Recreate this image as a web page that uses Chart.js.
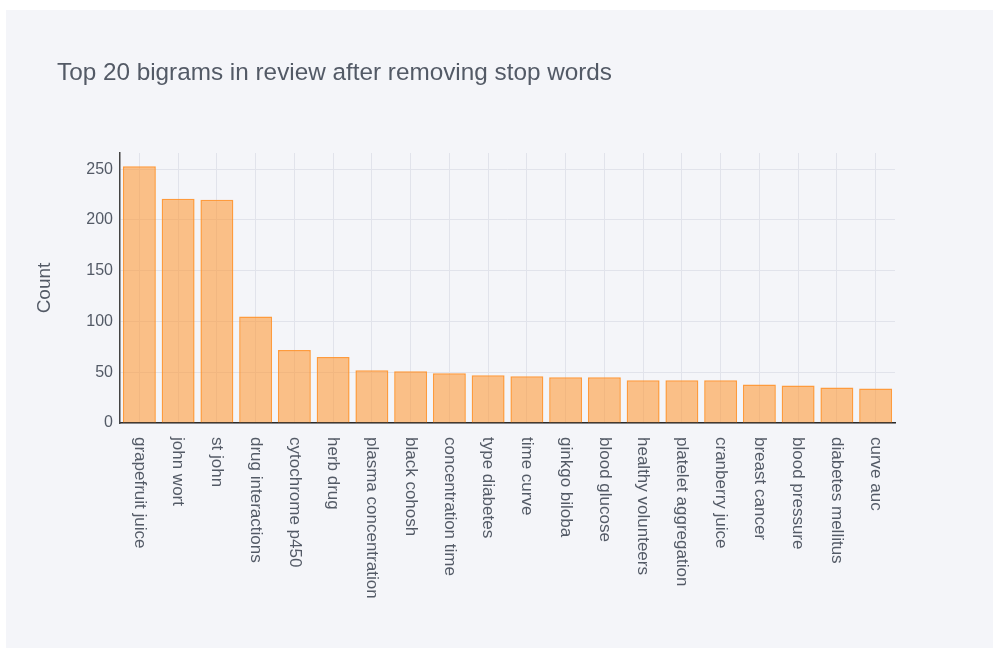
<!DOCTYPE html>
<html>
<head>
<meta charset="utf-8">
<script src="https://cdn.jsdelivr.net/npm/chart.js@4/dist/chart.umd.min.js"></script>
<style>
  html, body { margin: 0; padding: 0; background: #fff; }
  #panel { position: absolute; left: 6px; top: 10px; width: 987px; height: 638px; background: #f4f5f9; }
  #titulo { position: absolute; left: 51px; top: 48px; font: 24.3px "Liberation Sans", Arial, sans-serif; color: #535a66; white-space: nowrap; }
  #grafico { position: absolute; left: 0; top: 0; }
</style>
</head>
<body>
<div id="panel">
  <canvas id="grafico" width="987" height="638"></canvas>
  <div id="titulo">Top 20 bigrams in review after removing stop words</div>
</div>
<script>
const bigramas = ['grapefruit juice', 'john wort', 'st john', 'drug interactions', 'cytochrome p450',
  'herb drug', 'plasma concentration', 'black cohosh', 'concentration time', 'type diabetes',
  'time curve', 'ginkgo biloba', 'blood glucose', 'healthy volunteers', 'platelet aggregation',
  'cranberry juice', 'breast cancer', 'blood pressure', 'diabetes mellitus', 'curve auc'];
const contagens = [253, 221, 220, 105, 72, 65, 52, 51, 49, 47, 46, 45, 45, 42, 42, 42, 38, 37, 35, 34];
const ticksY = [0, 50, 100, 150, 200, 250];

const corTexto = '#535a66';
const fonte = '"Liberation Sans", Arial, sans-serif';

// rótulos do eixo x girados 90° no sentido horário (como no plotly)
const rotulosX = {
  id: 'rotulosX',
  afterDraw(chart) {
    const x = chart.scales.x;
    const ctx = chart.ctx;
    ctx.save();
    ctx.fillStyle = corTexto;
    ctx.font = '17px ' + fonte;
    ctx.textAlign = 'left';
    ctx.textBaseline = 'middle';
    bigramas.forEach((b, i) => {
      ctx.save();
      ctx.translate(x.getPixelForValue(i), x.bottom + 14);
      ctx.rotate(Math.PI / 2);
      ctx.fillText(b, 0, 0);
      ctx.restore();
    });
    ctx.restore();
  }
};

new Chart(document.getElementById('grafico'), {
  type: 'bar',
  data: {
    labels: bigramas,
    datasets: [{
      label: 'Count',
      data: contagens,
      backgroundColor: 'rgba(255, 150, 50, 0.57)',
      borderColor: 'rgba(255, 145, 40, 0.9)',
      borderWidth: 1.5,
      barPercentage: 0.85,
      categoryPercentage: 1
    }]
  },
  options: {
    responsive: false,
    animation: false,
    layout: { padding: { top: 143, bottom: 225, right: 98, left: 0 } },
    plugins: {
      legend: { display: false },
      tooltip: { enabled: false }
    },
    scales: {
      x: {
        offset: true,
        grid: { color: '#e1e3eb', offset: false, drawTicks: false },
        border: { color: '#2a2a2a', width: 1.5 },
        ticks: { display: false }
      },
      y: {
        min: 0,
        max: 266,
        afterBuildTicks: axis => { axis.ticks = ticksY.map(v => ({ value: v })); },
        afterFit: axis => { axis.width = 114; },
        grid: { color: '#e1e3eb', drawTicks: false },
        border: { color: '#444', width: 1.5 },
        ticks: { color: corTexto, font: { family: fonte, size: 16 }, padding: 7 },
        title: { display: true, text: 'Count', color: corTexto, font: { family: fonte, size: 19 }, padding: { top: 27 } }
      }
    }
  },
  plugins: [rotulosX]
});
</script>
</body>
</html>
